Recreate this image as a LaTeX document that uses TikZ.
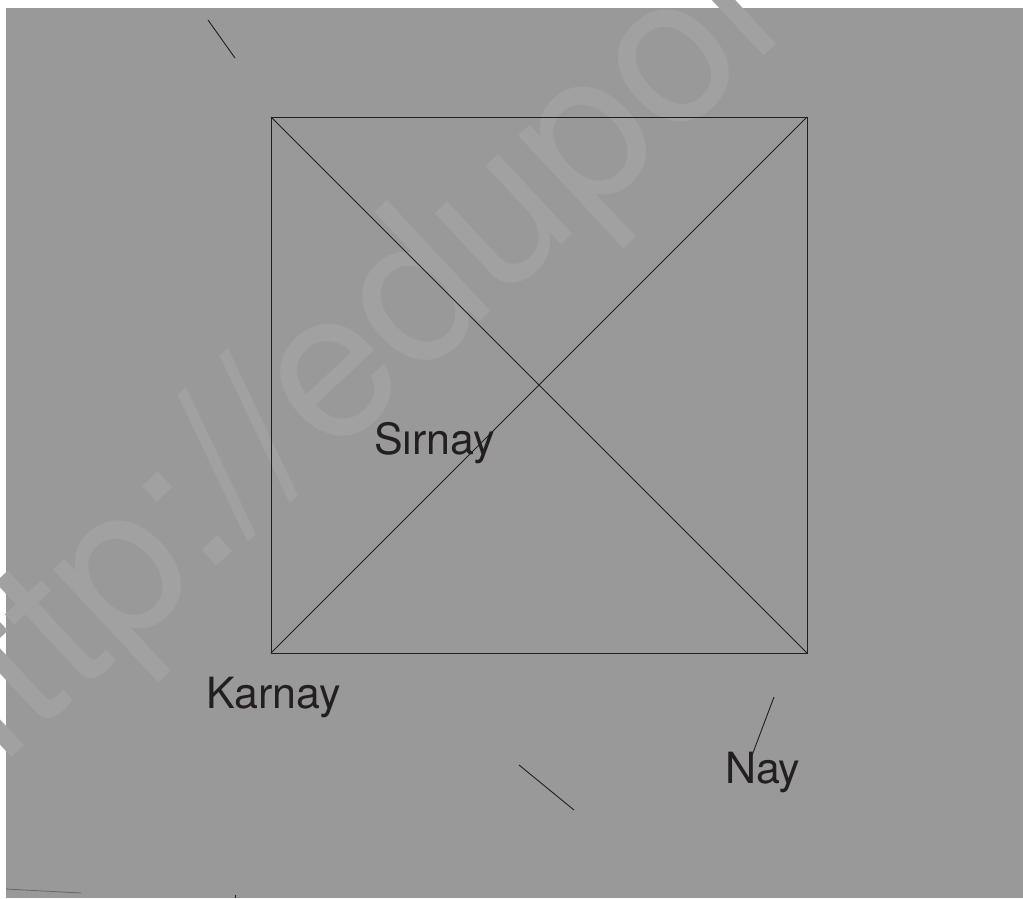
\documentclass[tikz,border=0pt]{standalone}
\usepackage{fontspec}
\setmainfont{TeX Gyre Heros}
\usepackage{xcolor}
\definecolor{sheetBack}{HTML}{999999}
\definecolor{markBack} {HTML}{A1A1A1}
\definecolor{inkDark}  {HTML}{231F20}
\usetikzlibrary{positioning, calc}
\begin{document}
\begin{tikzpicture}[
    x=1pt, y=-1pt,
    lbl/.style={font=\fontsize{43}{43}\selectfont, text=inkDark,
                anchor=base west, inner sep=0pt},
    edge/.style={draw=inkDark, line width=1pt},
    stray/.style={draw=inkDark, line width=0.9pt}
]
\useasboundingbox (0,0) rectangle (1023,898);
% Sheet
\fill[white] (0,0) rectangle (1023,898);
\fill[sheetBack] (6,8) rectangle (1023,898);
% Watermark
\node[font=\fontsize{208}{208}\selectfont, text=markBack, anchor=base west,
      inner sep=0pt, rotate=43] (mark) at (-50,815) {http://edupol};
% Square corners
\coordinate (tl) at (271,117);
\coordinate (tr) at (807,117);
\coordinate (br) at (807,653);
\coordinate (bl) at (271,653);
% Square and its diagonals
\draw[edge] (tl) -- (tr) -- (br) -- (bl) -- cycle;
\draw[edge] (tl) -- (br);
\draw[edge] (bl) -- (tr);
% Labels
\node[lbl] (sirnay) at (374,454) {Sırnay};
\node[lbl] (karnay) at (206,708) {Karnay};
\node[lbl] (nay)    at (725,783) {Nay};
% Loose strokes
\coordinate (s1a) at (208,20);  \coordinate (s1b) at (235,58);
\coordinate (s2a) at (519,765); \coordinate (s2b) at (574,810);
\coordinate (s3a) at (774,697); \coordinate (s3b) at (751,758);
\coordinate (s4a) at (6,889);   \coordinate (s4b) at (81,893);
\draw[stray] (s1a) -- (s1b);
\draw[stray] (s2a) -- (s2b);
\draw[stray] (s3a) -- (s3b);
\draw[draw=gray!80!black, line width=0.8pt] (s4a) -- (s4b);
\draw[stray] (235,895) -- (235,898);
\end{tikzpicture}
\end{document}
